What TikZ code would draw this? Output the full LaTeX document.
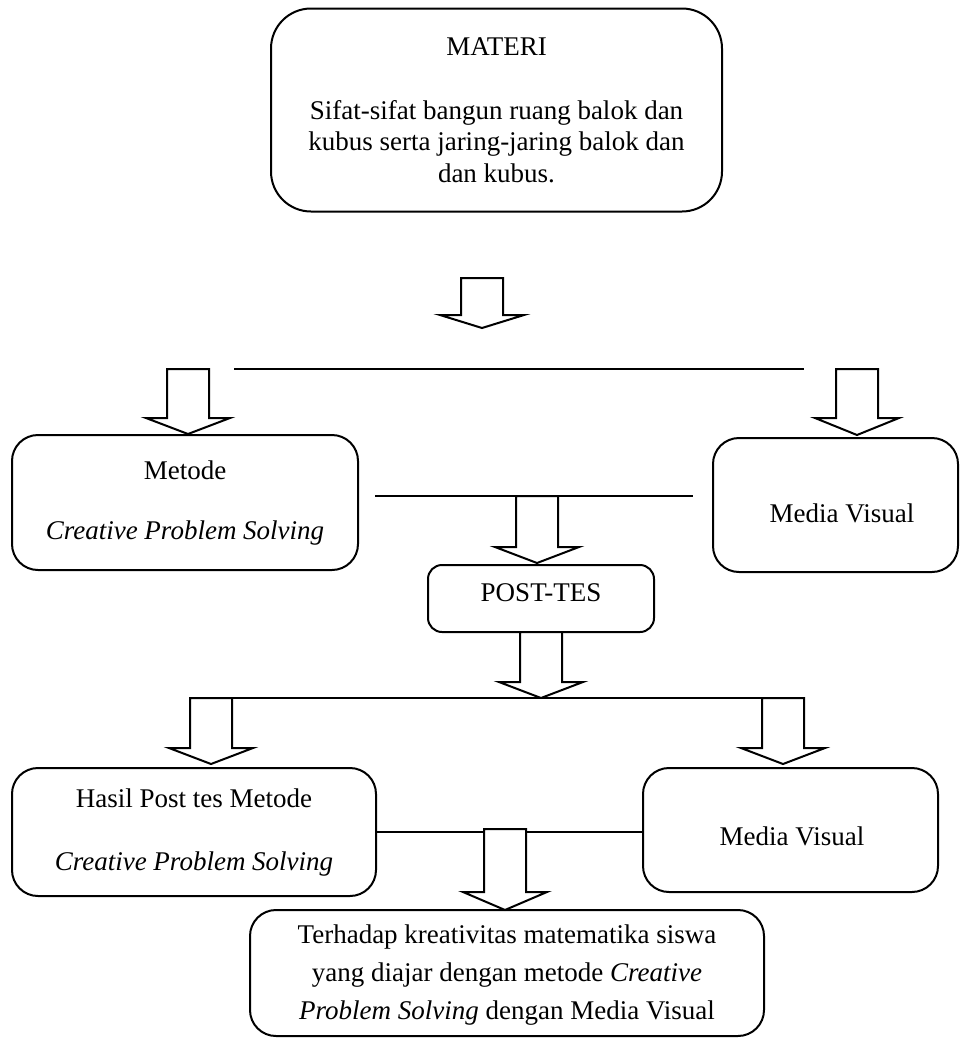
\documentclass[tikz,border=0pt]{standalone}
\usepackage{fontspec}
\setmainfont{Liberation Serif}
\begin{document}
\begin{tikzpicture}[x=0.5pt,y=-0.5pt,
  ln/.style={line width=1pt,line join=miter},
  box/.style={draw,line width=1pt,rounded corners=13pt,inner sep=0pt,align=center,
    font=\fontsize{13.5}{18}\selectfont},
  txt/.style={inner sep=0pt,align=center,font=\fontsize{13.5}{18}\selectfont},
  pics/barrow/.style 2 args={code={
    \draw[ln,fill=white] (-21,0) -- (-21,#1) -- (-42,#1) -- (0,#1+#2) -- (42,#1) -- (21,#1) -- (21,0) -- cycle;}}
]
\useasboundingbox (0,0) rectangle (960,1039);
% boxes
\node[box,rounded corners=20pt,minimum width=225.5pt,minimum height=101.5pt,
  font=\fontsize{13.5}{15.7}\selectfont] (materi) at (496.5,110)
  {MATERI\\[16.5pt]Sifat-sifat bangun ruang balok dan\\kubus serta jaring-jaring balok dan\\dan kubus.};
\node[box,minimum width=173pt,minimum height=67.5pt] (metode) at (185,502.5)
  {Metode\\[12pt]\textit{Creative Problem Solving}};
\node[box,minimum width=122.5pt,minimum height=67pt] (media1) at (835.5,505) {};
\node[txt] (media1t) at (842,513) {Media Visual};
\node[box,rounded corners=7pt,minimum width=113pt,minimum height=33.5pt] (post) at (541,598.5) {};
\node[txt] (postt) at (541,593) {POST-TES};
\node[box,minimum width=182pt,minimum height=64pt] (hasil) at (194,832)
  {Hasil Post tes Metode\\[13.5pt]\textit{Creative Problem Solving}};
\node[box,minimum width=147.5pt,minimum height=62pt] (media2) at (790.5,830) {};
\node[txt] (media2t) at (792,836) {Media Visual};
\node[box,minimum width=257pt,minimum height=63pt] (final) at (507,973) {};
\node[txt,font=\fontsize{13.5}{19}\selectfont] (finalt) at (507,975)
  {Terhadap kreativitas matematika siswa\\yang diajar dengan metode \textit{Creative}\\\textit{Problem Solving} dengan Media Visual};
% free line ends
\coordinate (l1a) at (234,369); \coordinate (l1b) at (804,369);
\coordinate (l2a) at (375,496); \coordinate (l2b) at (693,496);
\coordinate (l3a) at (190,698); \coordinate (l3b) at (803,698);
\draw[ln] (l1a) -- (l1b);
\draw[ln] (l2a) -- (l2b);
\draw[ln] (l3a) -- (l3b);
\draw[ln] (hasil.east) -- (hasil.east -| media2.west);
% block arrows
\pic at (482,278) {barrow={37}{13}};
\pic at (188,369) {barrow={49}{16}};
\pic at (857,369) {barrow={49}{17}};
\pic at (537,496) {barrow={51}{16}};
\pic at (541,632) {barrow={50}{16}};
\pic at (211,698) {barrow={50}{16}};
\pic at (783,698) {barrow={50}{16}};
\pic at (505,829) {barrow={63}{18}};
\end{tikzpicture}
\end{document}
